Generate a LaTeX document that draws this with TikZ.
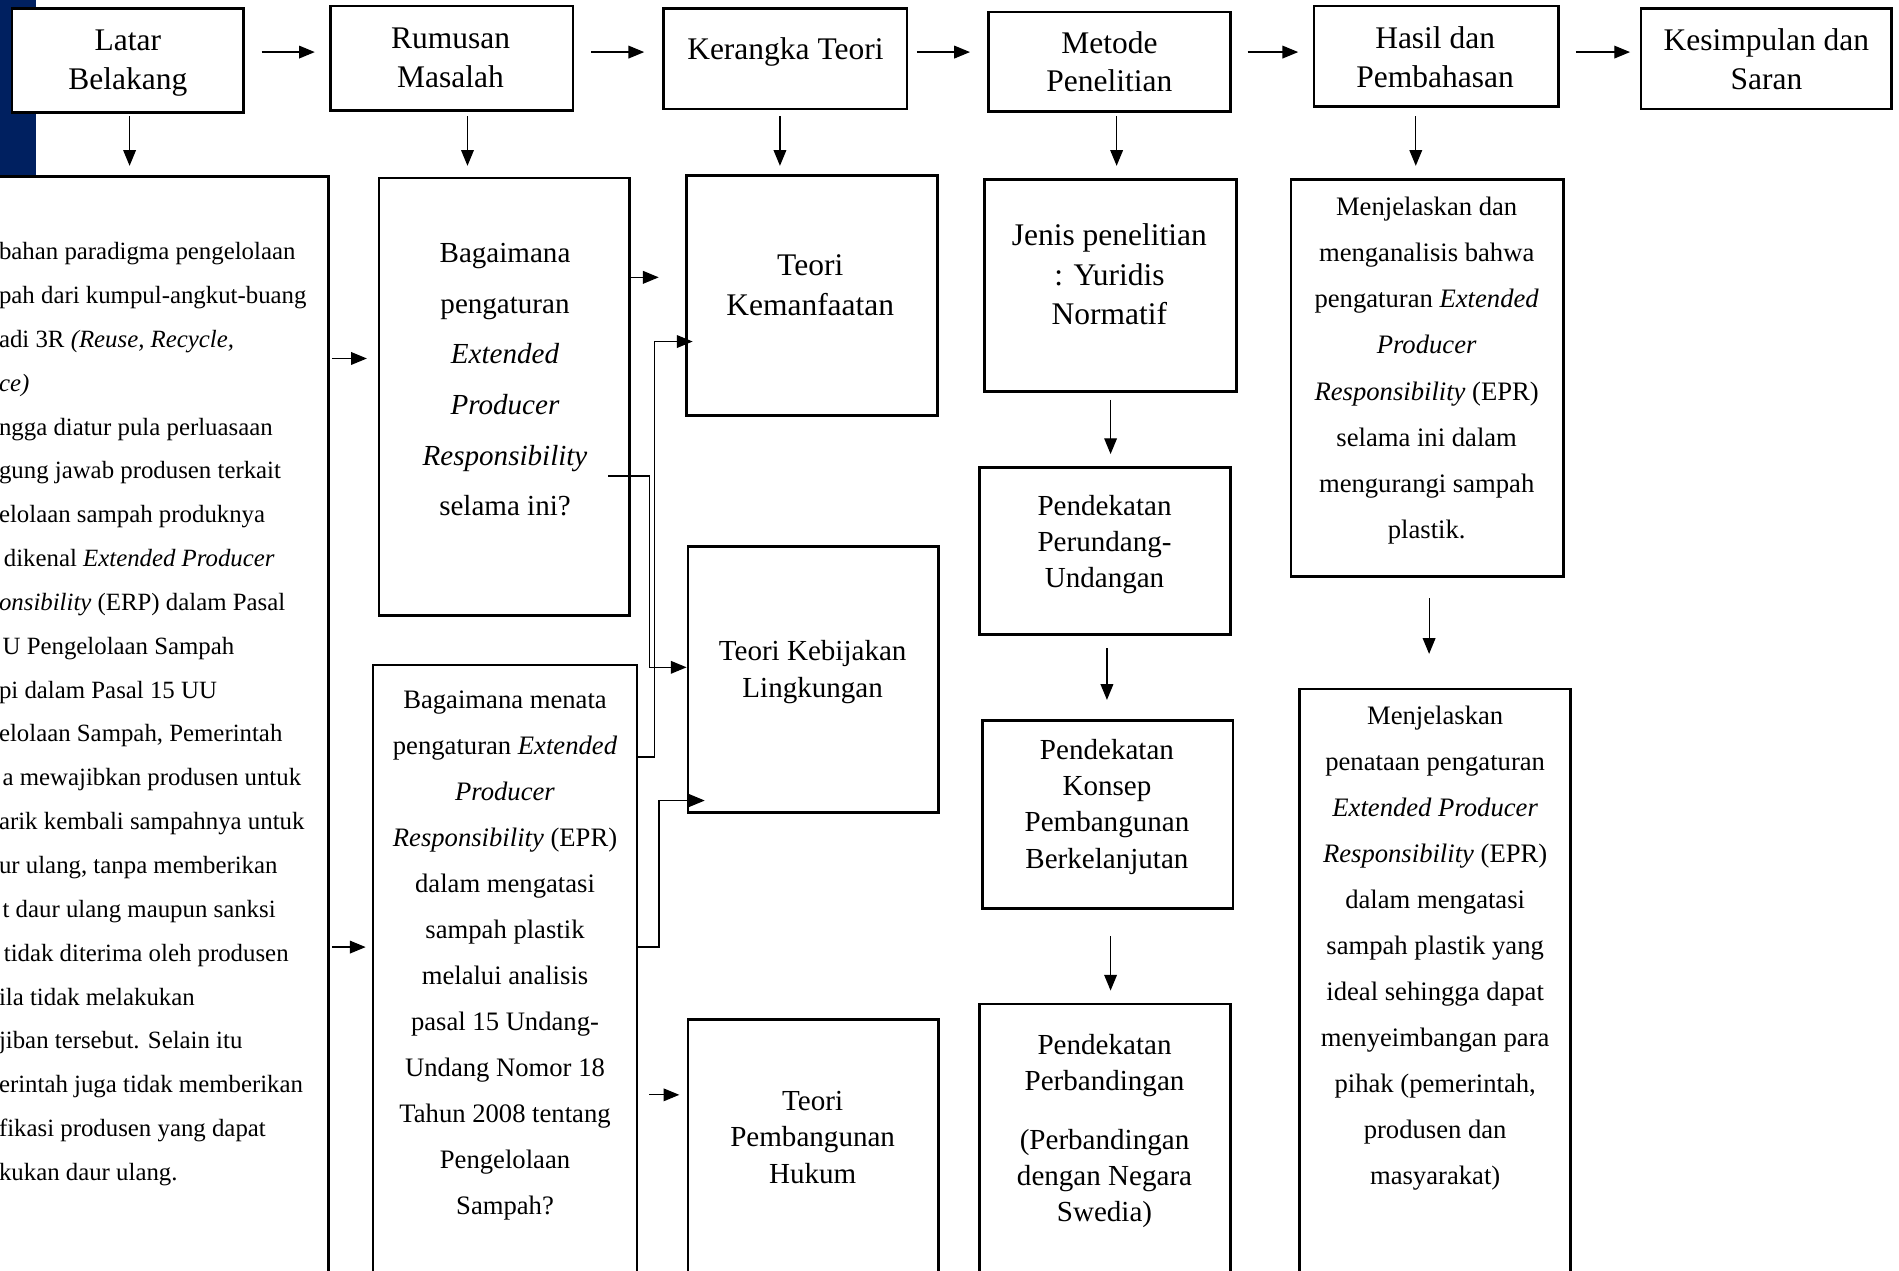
\documentclass[tikz,border=0pt]{standalone}
\usepackage{fontspec}
\setmainfont{Liberation Serif}
\usetikzlibrary{arrows.meta}
\definecolor{navybar}{RGB}{0,32,96}
\tikzset{
  box/.style={draw, line width=2.2pt, fill=white, inner sep=0pt},
  head/.style={align=center, inner sep=0pt, font=\fontsize{26}{32}\selectfont},
  sub/.style={align=center, inner sep=0pt, font=\fontsize{24}{30}\selectfont},
  isi/.style={align=center, inner sep=0pt, font=\fontsize{22}{38}\selectfont},
  arr/.style={-{Triangle[length=13pt,width=10.5pt]}, line width=1pt},
}

\begin{document}
\begin{tikzpicture}[x=1pt, y=-1pt]
\useasboundingbox (0,0) rectangle (1568,1049);
\clip (0,0) rectangle (1568,1049);

% page edge
\fill[navybar] (0,0) rectangle (30,145);

% top row
\node[box, minimum width=191pt, minimum height=86pt] (latar) at (105.5,50) {};
\node[head] (latar-t) at (105.5,52) {Latar\\Belakang};
\node[box, minimum width=200pt, minimum height=86pt] (rumusan) at (373,48) {};
\node[head] (rumusan-t) at (372,47.5) {Rumusan\\Masalah};
\node[box, minimum width=201pt, minimum height=83pt] (kerangka) at (648.5,48.5) {};
\node[head] (kerangka-t) at (648.5,43) {Kerangka Teori};
\node[box, minimum width=200pt, minimum height=82pt] (metode) at (916,51) {};
\node[head] (metode-t) at (916,51) {Metode\\Penelitian};
\node[box, minimum width=202pt, minimum height=83pt] (hasil) at (1186,46.5) {};
\node[head] (hasil-t) at (1185,47) {Hasil dan\\Pembahasan};
\node[box, minimum width=207pt, minimum height=83pt] (simpul) at (1458.5,48.5) {};
\node[head] (simpul-t) at (1458.5,49) {Kesimpulan dan\\Saran};

% latar belakang (cut at the page edge)
\node[box, minimum width=291pt, minimum height=954pt] (latarisi) at (125.5,623) {};
\node[align=left, inner sep=0pt, anchor=north west, font=\fontsize{20.5}{36.2}\selectfont] (latarisi-t) at (-1,200) {%
bahan paradigma pengelolaan\\
pah dari kumpul-angkut-buang\\
adi 3R \textit{(Reuse, Recycle,}\\
\textit{ce)}\\
ngga diatur pula perluasaan\\
gung jawab produsen terkait\\
elolaan sampah produknya\\
\hspace*{4pt}dikenal \textit{Extended Producer}\\
\textit{onsibility} (ERP) dalam Pasal\\
\hspace*{3pt}U Pengelolaan Sampah\\
pi dalam Pasal 15 UU\\
elolaan Sampah, Pemerintah\\
\hspace*{3pt}a mewajibkan produsen untuk\\
arik kembali sampahnya untuk\\
ur ulang, tanpa memberikan\\
\hspace*{3pt}t daur ulang maupun sanksi\\
\hspace*{4pt}tidak diterima oleh produsen\\
ila tidak melakukan\\
jiban tersebut. Selain itu\\
erintah juga tidak memberikan\\
fikasi produsen yang dapat\\
kukan daur ulang.};

% rumusan masalah
\node[box, minimum width=207pt, minimum height=361pt] (rumus1) at (416.5,327.5) {};
\node[align=center, inner sep=0pt, font=\fontsize{24}{41.8}\selectfont] (rumus1-t) at (417,313.5) {Bagaimana\\pengaturan\\\textit{Extended}\\\textit{Producer}\\\textit{Responsibility}\\selama ini?};
\node[box, minimum width=218pt, minimum height=551pt] (rumus2) at (417,824.5) {};
\node[isi] (rumus2-t) at (417,789) {Bagaimana menata\\pengaturan \textit{Extended}\\\textit{Producer}\\\textit{Responsibility} (EPR)\\dalam mengatasi\\sampah plastik\\melalui analisis\\pasal 15 Undang-\\Undang Nomor 18\\Tahun 2008 tentang\\Pengelolaan\\Sampah?};

% kerangka teori
\node[box, minimum width=207pt, minimum height=198pt] (manfaat) at (670.5,244) {};
\node[align=center, inner sep=0pt, font=\fontsize{26}{33}\selectfont] (manfaat-t) at (669,235.5) {Teori\\Kemanfaatan};
\node[box, minimum width=207pt, minimum height=220pt] (kebijakan) at (671.5,561) {};
\node[sub] (kebijakan-t) at (671,555) {Teori Kebijakan\\Lingkungan};
\node[box, minimum width=207pt, minimum height=258pt] (hukum) at (671.5,971) {};
\node[sub] (hukum-t) at (671,939) {Teori\\Pembangunan\\Hukum};

% metode penelitian
\node[box, minimum width=208pt, minimum height=175pt] (jenis) at (917,235.5) {};
\node[align=center, inner sep=0pt, font=\fontsize{26}{32.5}\selectfont] (jenis-t) at (916,226.5) {Jenis penelitian\\: Yuridis\\Normatif};
\node[box, minimum width=207pt, minimum height=138pt] (perundang) at (912.5,455) {};
\node[sub] (perundang-t) at (912,449.5) {Pendekatan\\Perundang-\\Undangan};
\node[box, minimum width=207pt, minimum height=155pt] (konsep) at (914.5,672.5) {};
\node[sub] (konsep-t) at (914,666) {Pendekatan\\Konsep\\Pembangunan\\Berkelanjutan};
\node[box, minimum width=207pt, minimum height=271pt] (banding) at (912.5,964.5) {};
\node[sub] (banding-t) at (912,934) {Pendekatan\\Perbandingan\\[18pt](Perbandingan\\dengan Negara\\Swedia)};

% hasil dan pembahasan
\node[box, minimum width=225pt, minimum height=328pt] (hasilisi) at (1178.5,312) {};
\node[isi] (hasilisi-t) at (1178,306) {Menjelaskan dan\\menganalisis bahwa\\pengaturan \textit{Extended}\\\textit{Producer}\\\textit{Responsibility} (EPR)\\selama ini dalam\\mengurangi sampah\\plastik.};
\node[box, minimum width=224pt, minimum height=531pt] (simpulisi) at (1185,834.5) {};
\node[isi] (simpulisi-t) at (1185,783) {Menjelaskan\\penataan pengaturan\\\textit{Extended Producer}\\\textit{Responsibility} (EPR)\\dalam mengatasi\\sampah plastik yang\\ideal sehingga dapat\\menyeimbangan para\\pihak (pemerintah,\\produsen dan\\masyarakat)};

% arrows along the top row
\draw[arr, shorten <=14pt, shorten >=12pt] (latar.east |- 0,43) -- (rumusan.west |- 0,43);
\draw[arr, shorten <=14pt, shorten >=15pt] (rumusan.east |- 0,43) -- (kerangka.west |- 0,43);
\draw[arr, shorten <=7pt, shorten >=14pt] (kerangka.east |- 0,43) -- (metode.west |- 0,43);
\draw[arr, shorten <=13pt, shorten >=12pt] (metode.east |- 0,43) -- (hasil.west |- 0,43);
\draw[arr, shorten <=13pt, shorten >=8pt] (hasil.east |- 0,43) -- (simpul.west |- 0,43);

% arrows down from the top row
\draw[arr, shorten <=2pt, shorten >=8pt] ([xshift=1.5pt]latar.south) -- ([xshift=1.5pt]latar.south |- latarisi.north);
\draw[arr, shorten <=4pt, shorten >=9pt] ([xshift=13pt]rumusan.south) -- ([xshift=13pt]rumusan.south |- rumus1.north);
\draw[arr, shorten <=5pt, shorten >=7pt] ([xshift=-4.5pt]kerangka.south) -- ([xshift=-4.5pt]kerangka.south |- manfaat.north);
\draw[arr, shorten <=3pt, shorten >=10pt] ([xshift=6pt]metode.south) -- ([xshift=6pt]metode.south |- jenis.north);
\draw[arr, shorten <=7pt, shorten >=10pt] ([xshift=-17pt]hasil.south) -- ([xshift=-17pt]hasil.south |- hasilisi.north);

% latar belakang to rumusan masalah
\draw[arr, shorten <=2pt, shorten >=9pt] (latarisi.east |- 0,296) -- (rumus1.west |- 0,296);
\draw[arr, shorten <=2pt, shorten >=5pt] (latarisi.east |- 0,782) -- (rumus2.west |- 0,782);

% rumusan masalah to kerangka teori
\draw[arr, shorten <=-2pt, shorten >=22pt] (rumus1.east |- 0,229) -- (manfaat.west |- 0,229);
\draw[arr] ([xshift=-19pt]rumus1.east |- 0,393) -- ++(34,0) |- (kebijakan.west |- 0,551);
\draw[arr, shorten >=-6pt] (rumus2.east |- 0,625) -- ++(13,0) |- (manfaat.west |- 0,282);
\draw[arr, shorten >=-15pt] (rumus2.east |- 0,782) -- ++(17,0) |- (kebijakan.west |- 0,661);
\draw[arr, shorten <=9pt, shorten >=6pt] (rumus2.east |- 0,904) -- (hukum.west |- 0,904);

% down the metode column
\draw[arr, shorten <=6pt, shorten >=10pt] (jenis.south) -- (jenis.south |- perundang.north);
\draw[arr, shorten <=10pt, shorten >=16pt] ([xshift=1.5pt]perundang.south) -- ([xshift=1.5pt]perundang.south |- konsep.north);
\draw[arr, shorten <=22pt, shorten >=10pt] ([xshift=2.5pt]konsep.south) -- ([xshift=2.5pt]konsep.south |- banding.north);

% down the hasil column
\draw[arr, shorten <=17pt, shorten >=28pt] ([xshift=1.5pt]hasilisi.south) -- ([xshift=1.5pt]hasilisi.south |- simpulisi.north);
\end{tikzpicture}
\end{document}
